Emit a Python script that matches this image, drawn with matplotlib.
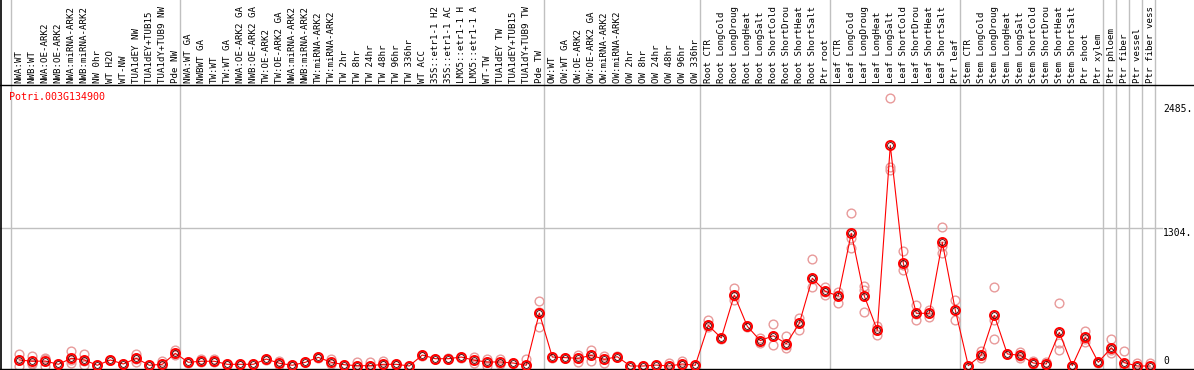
import numpy as np
import matplotlib
matplotlib.use("Agg")
import matplotlib.pyplot as plt

# Sample groups (labels are cut to 14 characters like the original viewer)
group_nw = ["NWA:WT", "NWB:WT", "NWA:OE-ARK2", "NWB:OE-ARK2", "NWA:miRNA-ARK2", "NWB:miRNA-ARK2",
            "NW 0hr", "WT H2O", "WT-NW", "TUA1dEY NW", "TUA1dEY+TUB15 NW", "TUA1dY+TUB9 NW", "Pde NW"]
group_tw = ["NWA:WT GA", "NWBWT GA", "TW:WT", "TW:WT GA", "NWA:OE-ARK2 GA", "NWB:OE-ARK2 GA",
            "TW:OE-ARK2", "TW:OE-ARK2 GA", "NWA:miRNA-ARK2 GA", "NWB:miRNA-ARK2 GA", "TW:miRNA-ARK2",
            "TW:miRNA-ARK2 GA", "TW 2hr", "TW 8hr", "TW 24hr", "TW 48hr", "TW 96hr", "TW 336hr",
            "WT ACC", "35S::etr1-1 H2O", "35S::etr1-1 ACC", "LMX5::etr1-1 H2O", "LMX5::etr1-1 ACC",
            "WT-TW", "TUA1dEY TW", "TUA1dEY+TUB15 TW", "TUA1dY+TUB9 TW", "Pde TW"]
group_ow = ["OW:WT", "OW:WT GA", "OW:OE-ARK2", "OW:OE-ARK2 GA", "OW:miRNA-ARK2", "OW:miRNA-ARK2 GA",
            "OW 2hr", "OW 8hr", "OW 24hr", "OW 48hr", "OW 96hr", "OW 336hr"]
group_root = ["Root CTR", "Root LongCold", "Root LongDrought", "Root LongHeat", "Root LongSalt",
              "Root ShortCold", "Root ShortDrought", "Root ShortHeat", "Root ShortSalt", "Ptr root"]
group_leaf = ["Leaf CTR", "Leaf LongCold", "Leaf LongDrought", "Leaf LongHeat", "Leaf LongSalt",
              "Leaf ShortCold", "Leaf ShortDrought", "Leaf ShortHeat", "Leaf ShortSalt", "Ptr leaf"]
group_stem = ["Stem CTR", "Stem LongCold", "Stem LongDrought", "Stem LongHeat", "Stem LongSalt",
              "Stem ShortCold", "Stem ShortDrought", "Stem ShortHeat", "Stem ShortSalt", "Ptr shoot",
              "Ptr xylem"]
group_ptr = [["Ptr phloem"], ["Ptr fiber"], ["Ptr vessel"], ["Ptr fiber vessel"]]

groups = [group_nw, group_tw, group_ow, group_root, group_leaf, group_stem] + group_ptr
labels = [lab for g in groups for lab in g]

gene_id = "Potri.003G134900"

# Mean expression per sample
means = [57, 45, 47, 16, 73, 57, 7, 57, 19, 73, 7, 16, 120,
         35, 45, 45, 16, 16, 16, 66, 26, 7, 35, 82, 35, 12, 3, 3, 16, 16, 0, 104, 69, 69, 85, 54,
         38, 38, 28, 7, 502,
         85, 79, 73, 101, 63, 88, 0, 0, 9, 0, 19, 7,
         385, 265, 672, 376, 240, 287, 211, 404, 831, 707,
         663, 1257, 663, 338, 2090, 975, 499, 499, 1171, 530,
         3, 104, 480, 114, 101, 28, 19, 319, 3, 272, 35,
         173, 31, 0, 0]

# Replicate values per sample
replicates = [
    [111, 0, 57], [92, 19, 30], [73, 0, 66], [16, 12], [142, 26, 55], [111, 9, 50], [7, 5],
    [57, 54], [19, 16], [114, 41, 66], [7, 4], [50, 3], [152, 110, 100],
    [35, 30], [66, 40], [66, 35], [16, 14], [16, 12], [16, 20], [66, 60], [50, 10], [7, 4],
    [35, 38], [82, 78], [63, 20], [12, 10], [35, 0], [41, 0], [47, 5], [16, 14], [0, 2],
    [104, 98], [69, 66], [69, 72], [85, 80], [85, 30], [66, 0, 40], [66, 20], [28, 25],
    [66, 0], [616, 372, 510],
    [85, 80], [79, 75], [38, 73, 100], [154, 45, 100], [26, 63, 90], [88, 95], [0, 2], [0, 2],
    [9, 12], [26, 0], [50, 5], [7, 3],
    [433, 366, 385], [265, 260], [736, 625, 660], [376, 370], [262, 215, 240], [395, 196, 280],
    [284, 173, 200], [457, 341, 410], [1010, 745, 820], [751, 670, 700],
    [704, 599, 670], [1446, 1209, 1115], [758, 509, 720], [379, 294, 340], [2535, 1882, 1856],
    [1086, 909, 960], [575, 436, 490], [467, 530, 500], [1316, 1139, 1067], [625, 436, 530],
    [3, 0], [145, 73, 100], [745, 256, 440], [114, 110], [135, 73, 95], [47, 20], [41, 10],
    [594, 215, 152], [3, 0], [334, 260, 230], [35, 30], [256, 120, 150],
    [142, 0], [31, 0], [28, 0],
]

y_ticks = [2485, 1304, 0]

mono = "DejaVu Sans Mono"
W, H = 1194, 370

fig = plt.figure(figsize=(W / 100, H / 100), dpi=100)
# plot area: between the black lines at y=85px and y=369px
ax = fig.add_axes([0, 1 / H, 1, 284 / H])
x = np.arange(len(labels))
ax.set_xlim(-19.3 / 13, (W - 19.3) / 13)
ax.set_ylim(-28.4, 2661)
ax.set_xticks([])
ax.set_yticks([])
for s in ["left", "right"]:
    ax.spines[s].set_visible(False)
for s in ["top", "bottom"]:
    ax.spines[s].set_linewidth(1.0)
    ax.spines[s].set_color("black")

# left border runs the full height
fig.add_artist(plt.Line2D([0.6 / W, 0.6 / W], [0, 1], color="black", lw=1.2))

# group separators through labels and plot
starts = np.cumsum([0] + [len(g) for g in groups])
for s in starts:
    ax.axvline(s - 0.62, ymin=-0.02, ymax=1.31, color="#c0c0c0", lw=1.0, clip_on=False, zorder=1)

# reference line
ax.axhline(y_ticks[1], xmin=0, xmax=1162 / W, color="#c0c0c0", lw=1.0, zorder=1)

# replicates
for i, reps in enumerate(replicates):
    ax.plot([x[i]] * len(reps), reps, "o", ms=6.3, mfc="none", mec="#e89a9a", mew=1.0,
            clip_on=False, zorder=2)

# mean line and markers
ax.plot(x, means, "-", color="red", lw=0.8, zorder=3, clip_on=False)
ax.plot(x, means, "o", ms=6.5, mfc="none", mec="red", mew=1.4, zorder=4, clip_on=False)
ax.plot(x, means, "o", ms=4.2, mfc="none", mec="#400000", mew=0.6, zorder=5, clip_on=False)

# column labels
trans = ax.get_xaxis_transform()
for i, lab in enumerate(labels):
    ax.text(x[i], 1.008, lab[:14], rotation=90, ha="center", va="bottom", transform=trans,
            fontsize=6.6, family=mono, color="black", clip_on=False)

# value labels on the right
ax.text(1163 / W, y_ticks[0], f"{y_ticks[0]}.", transform=ax.get_yaxis_transform(),
        ha="left", va="top", fontsize=7, family=mono)
ax.text(1163 / W, y_ticks[1], f"{y_ticks[1]}.", transform=ax.get_yaxis_transform(),
        ha="left", va="top", fontsize=7, family=mono)
ax.text(1163 / W, y_ticks[2], f"{y_ticks[2]}", transform=ax.get_yaxis_transform(),
        ha="left", va="bottom", fontsize=7, family=mono)

# gene name
fig.text(9 / W, 1 - 97 / H, gene_id, ha="left", va="center", color="red", fontsize=7.2, family=mono)

fig.savefig("out.png", dpi=100)
